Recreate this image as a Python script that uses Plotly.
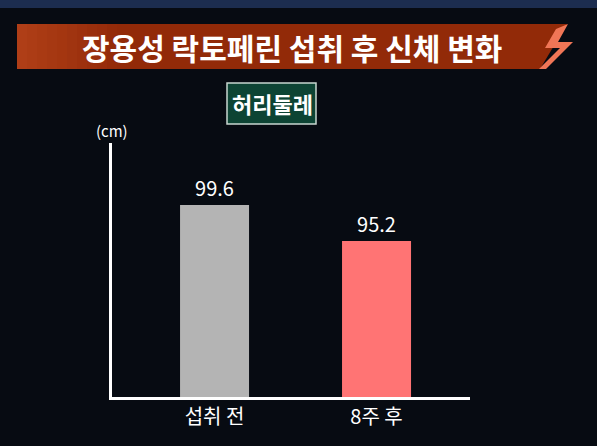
import plotly.graph_objects as go

# data
categories = ["섭취 전", "8주 후"]
waist_cm = [99.6, 95.2]
bar_colors = ["#b4b4b4", "#ff7474"]
title_text = "장용성 락토페린 섭취 후 신체 변화"
subtitle_text = "허리둘레"
unit_text = "(cm)"

W, H = 597, 446
L, R, T, B = 112, 127, 143, 49
FONT = "Noto Sans CJK KR"


# pixel -> paper helpers
def px(x):
    return (x - L) / (W - L - R)


def py(y):
    return (H - B - y) / (H - T - B)


fig = go.Figure()
fig.add_trace(go.Bar(
    x=categories, y=waist_cm,
    marker=dict(color=bar_colors, line=dict(width=0)),
    width=0.426,
    text=[f"{v:.1f}" for v in waist_cm],
    textposition="outside",
    textfont=dict(family=FONT, size=20, color="white"),
    cliponaxis=False,
))

shapes = []
# navy strip at the very top
shapes.append(dict(type="rect", xref="paper", yref="paper", layer="below",
                   x0=px(0), x1=px(W), y0=py(0), y1=py(8),
                   fillcolor="#1c2d4f", line=dict(width=0)))

# banner with slanted right end
path = (f"M {px(17)},{py(24)} L {px(567)},{py(24)} L {px(540)},{py(69)} "
        f"L {px(17)},{py(69)} Z")
shapes.append(dict(type="path", path=path, xref="paper", yref="paper",
                   fillcolor="#922a08", line=dict(width=0), layer="below"))
# orange glow on the left side of the banner
for i in range(10):
    x0 = 17 + i * 10
    shapes.append(dict(type="rect", xref="paper", yref="paper", layer="below",
                       x0=px(x0), x1=px(x0 + 10), y0=py(24), y1=py(69),
                       fillcolor="#cc5226", opacity=0.5 * (1 - i / 10),
                       line=dict(width=0)))

# lightning mark
bolt = (f"M {px(556)},{py(29)} L {px(568)},{py(24)} L {px(558)},{py(42)} "
        f"L {px(573)},{py(42)} L {px(546)},{py(69)} L {px(539)},{py(69)} "
        f"L {px(560)},{py(48)} L {px(545)},{py(48)} Z")
shapes.append(dict(type="path", path=bolt, xref="paper", yref="paper",
                   fillcolor="#f07656", line=dict(width=0)))

# subtitle box
shapes.append(dict(type="rect", xref="paper", yref="paper",
                   x0=px(227), x1=px(316), y0=py(83), y1=py(124),
                   fillcolor="#0d4434", line=dict(color="#c8d6cf", width=1.5)))

fig.update_layout(
    width=W, height=H, autosize=False,
    margin=dict(l=L, r=R, t=T, b=B),
    paper_bgcolor="#070b12", plot_bgcolor="#070b12",
    showlegend=False,
    shapes=shapes,
    xaxis=dict(range=[-0.633, 1.577], showline=True, linecolor="white", linewidth=3,
               showgrid=False, zeroline=False, ticks="",
               tickfont=dict(family=FONT, size=20, color="white")),
    yaxis=dict(range=[76.1, 107.2], showline=True, linecolor="white", linewidth=3,
               showgrid=False, zeroline=False, showticklabels=False, ticks=""),
    annotations=[
        dict(text=f"<b>{title_text}</b>", xref="paper", yref="paper",
             x=px(292), y=py(47), showarrow=False,
             xanchor="center", yanchor="middle",
             font=dict(family=FONT, size=30, color="white")),
        dict(text=f"<b>{subtitle_text}</b>", xref="paper", yref="paper",
             x=px(272), y=py(103), showarrow=False,
             xanchor="center", yanchor="middle",
             font=dict(family=FONT, size=22, color="white")),
        dict(text=unit_text, xref="paper", yref="paper",
             x=px(112), y=py(130), showarrow=False,
             xanchor="center", yanchor="middle",
             font=dict(family=FONT, size=15, color="white")),
    ],
)

fig.write_html("out.html", config={"displayModeBar": False},
               post_script="document.body.style.margin='0';"
                           "document.body.style.background='#070b12';")
